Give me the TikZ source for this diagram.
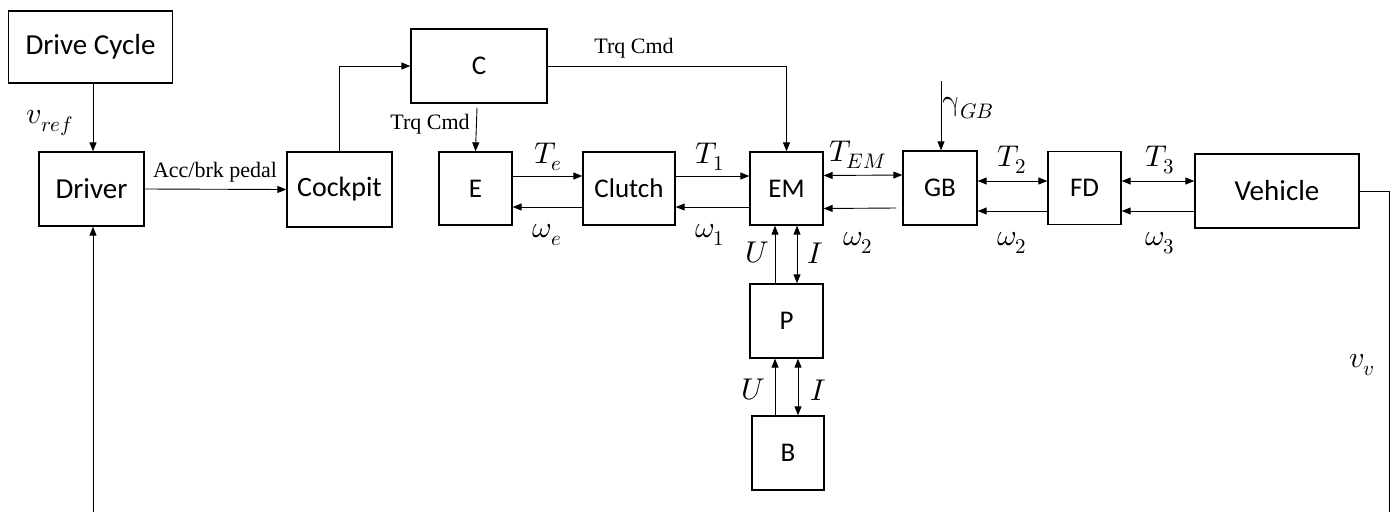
\documentclass[tikz,border=0pt]{standalone}
\usepackage{fontspec}
\usepackage{unicode-math}
\setmathfont{Latin Modern Math}
\newfontfamily\boxfont{Carlito}
\newfontfamily\serfont{Liberation Serif}
\usetikzlibrary{arrows.meta,calc}
\tikzset{
  box/.style={draw, line width=1.3pt, inner sep=0pt, font=\boxfont\fontsize{27}{30}\selectfont},
  bigbox/.style={box, font=\boxfont\fontsize{29}{32}\selectfont},
  arr/.style={line width=0.9pt, -{Triangle[length=9pt,width=7pt]}},
  darr/.style={line width=0.9pt, {Triangle[length=9pt,width=7pt]}-{Triangle[length=9pt,width=7pt]}},
  wire/.style={line width=0.9pt},
  lbl/.style={font=\serfont\fontsize{22}{26}\selectfont, inner sep=0pt},
  mth/.style={font=\fontsize{30}{34}\selectfont, inner sep=0pt}
}
\begin{document}
\begin{tikzpicture}[x=1pt,y=-1pt]
\useasboundingbox (0,0) rectangle (1395,512);
% boxes
\node[bigbox, minimum width=164pt, minimum height=72pt] (dc) at (90.5,47) {Drive Cycle};
\node[bigbox, minimum width=105pt, minimum height=74pt] (drv) at (91.5,189) {Driver};
\node[box, minimum width=105pt, minimum height=75pt, font=\boxfont\fontsize{28}{30}\selectfont] (ckp) at (339.5,189.5) {Cockpit};
\node[box, minimum width=136pt, minimum height=74pt] (C) at (479,66) {C};
\node[box, minimum width=73pt, minimum height=73pt] (E) at (475.5,188.5) {E};
\node[box, minimum width=92pt, minimum height=73pt] (cl) at (629,188.5) {Clutch};
\node[box, minimum width=73pt, minimum height=73pt] (EM) at (786.5,188.5) {EM};
\node[box, minimum width=74pt, minimum height=74pt] (GB) at (940,188) {GB};
\node[box, minimum width=73pt, minimum height=73pt] (FD) at (1084.5,188) {FD};
\node[bigbox, minimum width=164pt, minimum height=74pt] (veh) at (1277,191) {Vehicle};
\node[box, minimum width=73pt, minimum height=74pt] (P) at (786.5,321) {P};
\node[box, minimum width=72pt, minimum height=74pt] (B) at (788,453) {B};
% coordinates
\coordinate (gin) at (941,81);
\coordinate (fbr) at (1389,191);
\coordinate (fbb) at (1389,512);
\coordinate (fbl) at (93,512);
% connectors
\draw[arr] ($(dc.south)+(2.5,0)$) -- ($(drv.north)+(1.5,0)$);
\draw[arr] (drv.east) -- (ckp.west);
\draw[arr] (ckp.north) |- (C.west);
\draw[arr] ($(C.south)+(-2,4)$) -- ($(E.north)+(0,0)$);
\draw[arr] (C.east) -| (EM.north);
\draw[arr] ($(E.east)+(0,-12.5)$) -- ($(cl.west)+(0,-12.5)$);
\draw[arr] ($(cl.west)+(0,18.5)$) -- ($(E.east)+(0,18.5)$);
\draw[arr] ($(cl.east)+(0,-12.5)$) -- ($(EM.west)+(0,-12.5)$);
\draw[arr] ($(EM.west)+(0,18.5)$) -- ($(cl.east)+(0,18.5)$);
\draw[darr] ($(EM.east)+(0,-13)$) -- ($(GB.west)+(0,-13)$);
\draw[arr] ($(GB.west)+(-6,20)$) -- ($(EM.east)+(0,20)$);
\draw[darr] ($(GB.east)+(0,-7)$) -- ($(FD.west)+(0,-7)$);
\draw[arr] ($(FD.west)+(0,23)$) -- ($(GB.east)+(0,23)$);
\draw[darr] ($(FD.east)+(0,-7)$) -- ($(veh.west)+(0,-10)$);
\draw[arr] ($(veh.west)+(0,20)$) -- ($(FD.east)+(0,23)$);
\draw[arr] (gin) -- (GB.north -| gin);
\draw[arr] ($(P.north)+(-11.5,0)$) -- ($(EM.south)+(-11.5,0)$);
\draw[darr] ($(P.north)+(10.5,0)$) -- ($(EM.south)+(10.5,0)$);
\draw[arr] ($(B.north)+(-13,0)$) -- ($(P.south)+(-11.5,0)$);
\draw[darr] ($(B.north)+(10,0)$) -- ($(P.south)+(11.5,0)$);
\draw[wire] (veh.east) -- (fbr) -- (fbb);
\draw[arr] (fbl) -- (drv.south -| fbl);
% labels
\node[mth] (lvref) at (50,123) {$v_{ref}$};
\node[lbl] (lacc) at (215,172) {Acc/brk pedal};
\node[lbl] (ltq1) at (430,124) {Trq Cmd};
\node[lbl] (ltq2) at (634,48) {Trq Cmd};
\node[mth] (lTe) at (548,157) {$T_e$};
\node[mth] (lwe) at (547,235) {$\omega_e$};
\node[mth] (lT1) at (710,157) {$T_1$};
\node[mth] (lw1) at (710,235) {$\omega_1$};
\node[mth] (lTEM) at (858,155) {$T_{EM}$};
\node[mth] (lw2a) at (858,243) {$\omega_2$};
\node[mth] (lT2) at (1012,160) {$T_2$};
\node[mth] (lw2b) at (1012,243) {$\omega_2$};
\node[mth] (lT3) at (1160,160) {$T_3$};
\node[mth] (lw3) at (1160,243) {$\omega_3$};
\node[mth] (lg) at (968,108) {$\symup{\gamma}_{GB}$};
\node[mth] (lU1) at (757,253) {$U$};
\node[mth] (lI1) at (815,253) {$I$};
\node[mth] (lU2) at (753,390) {$U$};
\node[mth] (lI2) at (818,390) {$I$};
\node[mth] (lvv) at (1362,365) {$v_v$};
\end{tikzpicture}
\end{document}
